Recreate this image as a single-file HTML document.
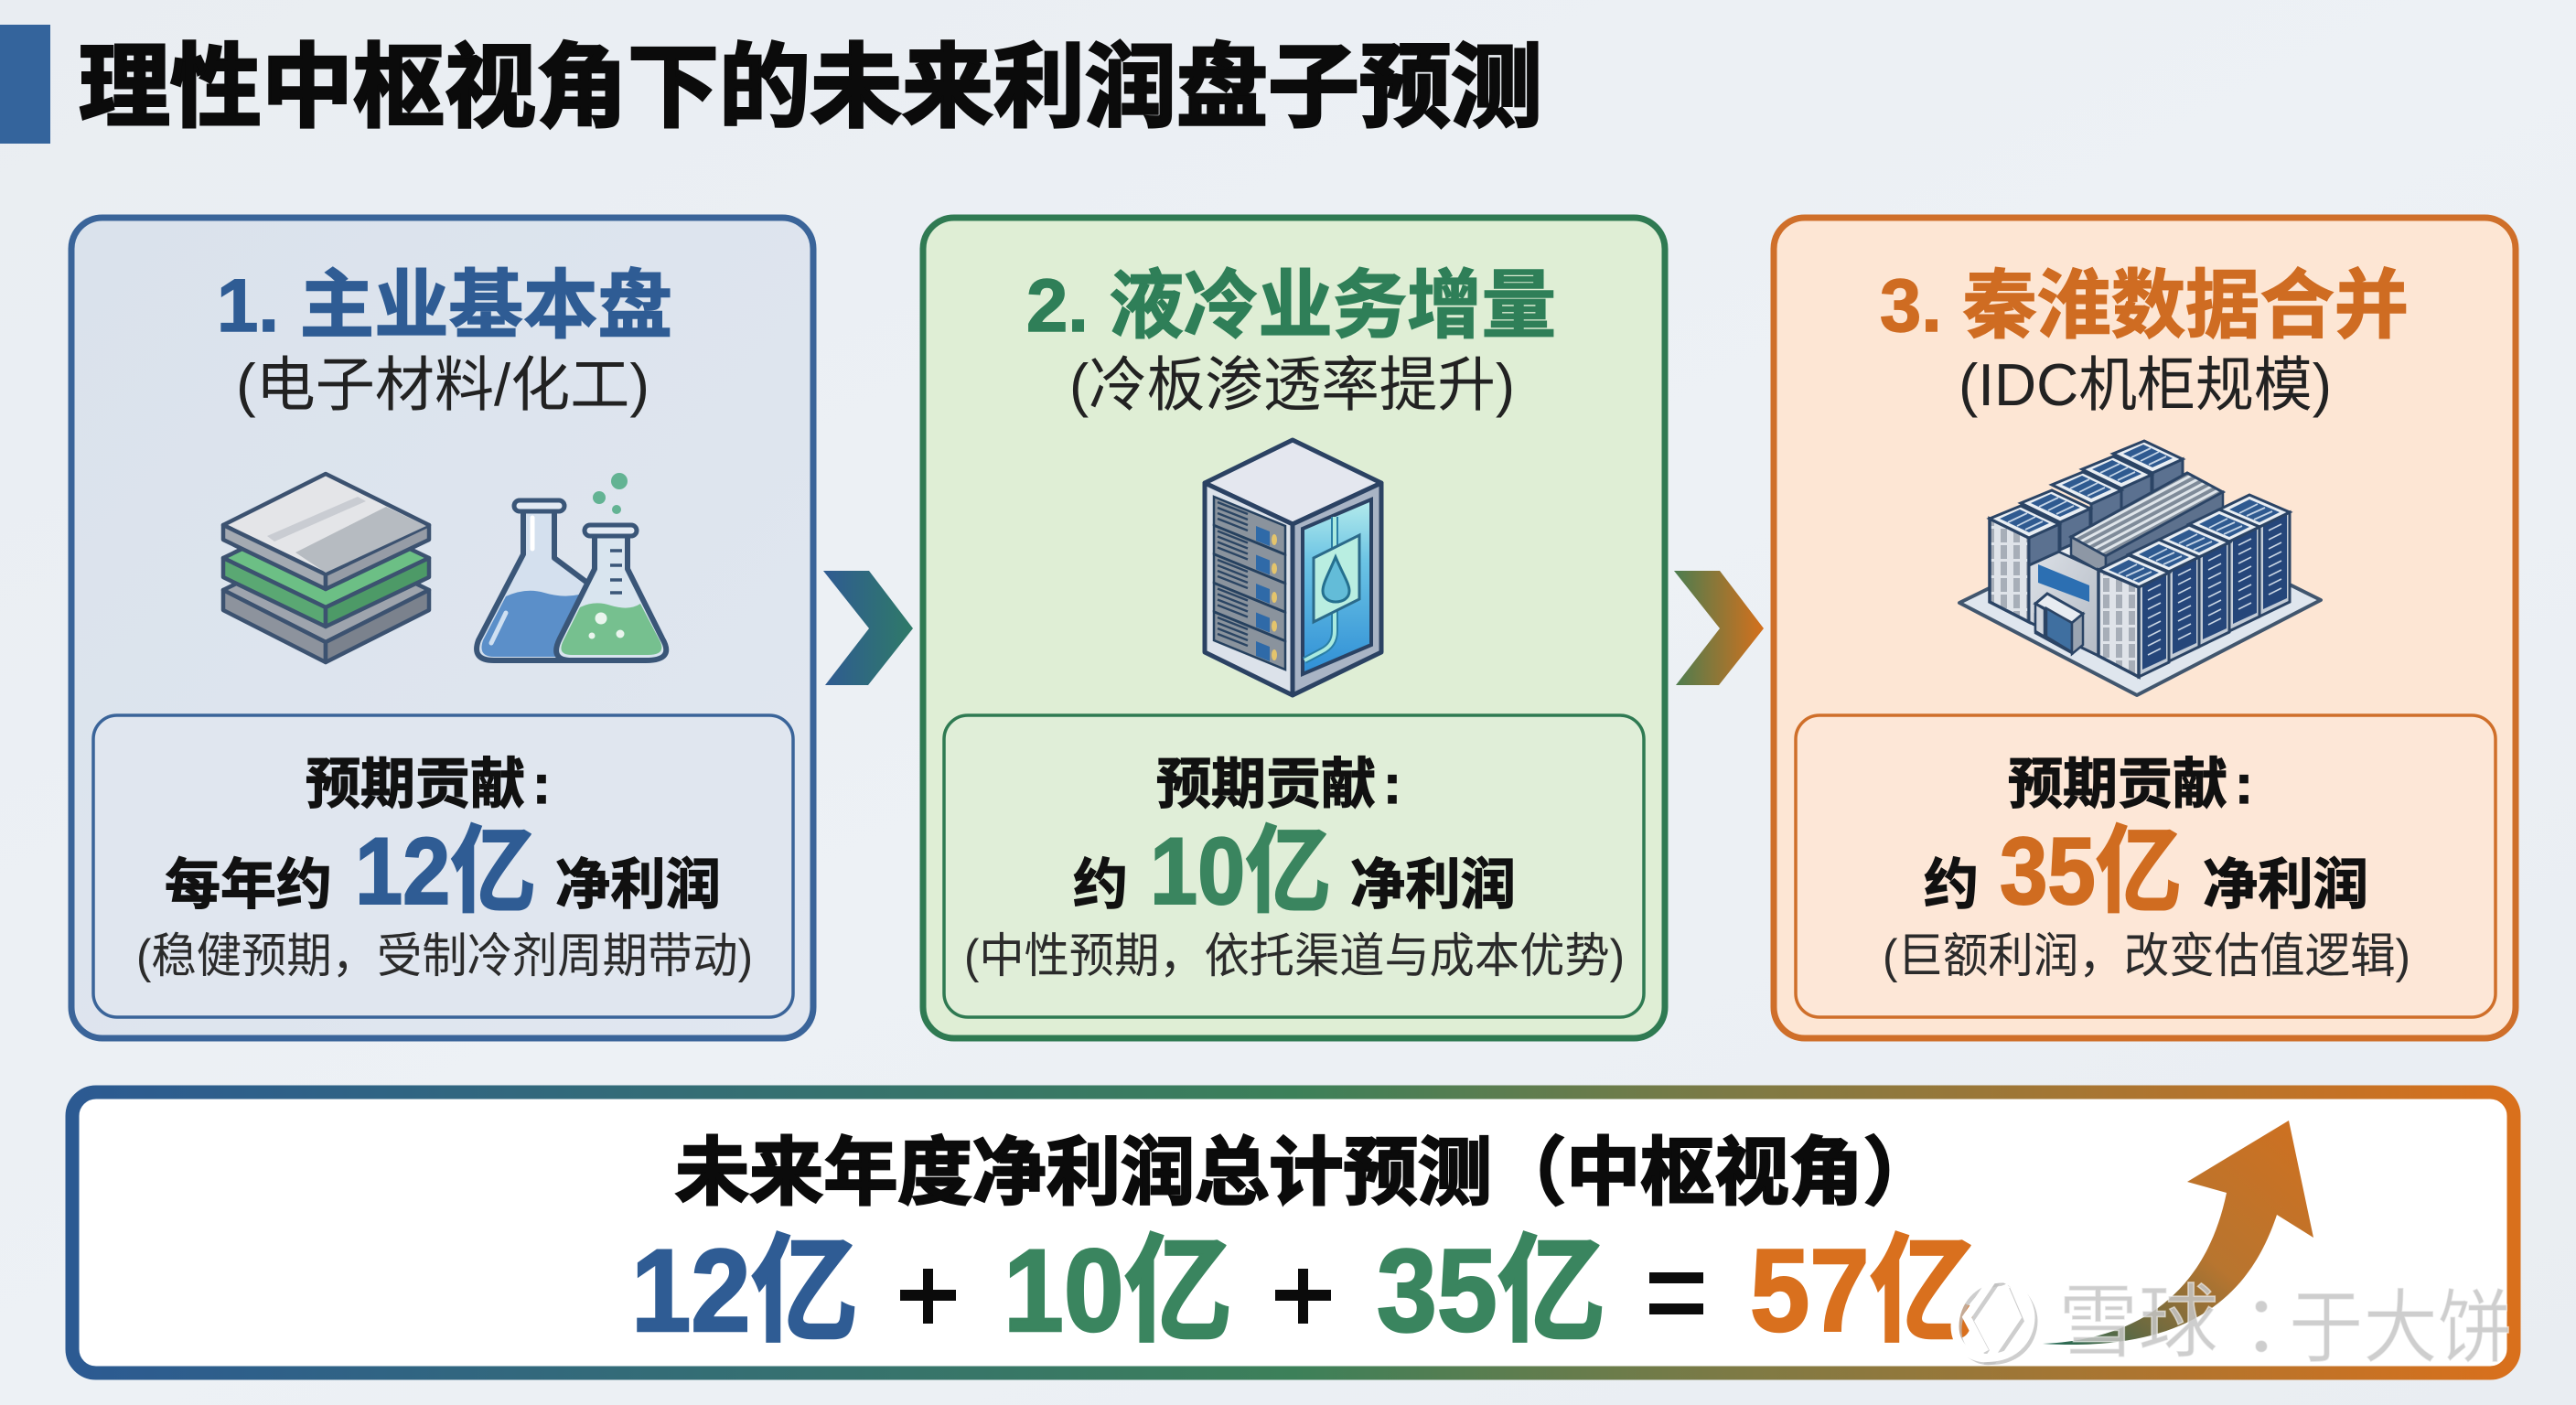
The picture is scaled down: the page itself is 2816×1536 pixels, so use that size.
<!DOCTYPE html>
<html lang="zh"><head><meta charset="utf-8"><title>理性中枢视角下的未来利润盘子预测</title>
<style>
html,body{margin:0;padding:0;background:#ebeff4}
svg{display:block}
text{font-family:"Liberation Sans","Noto Sans CJK SC",sans-serif;white-space:pre}
.h{font-weight:700;font-size:82px;stroke-width:1.5px}
.s{font-size:65px;fill:#222}
.k{font-weight:700;font-size:60px;fill:#111;stroke:#111;stroke-width:1.2px}
.n{font-weight:700;font-size:104px;stroke-width:2px}
.d{font-size:52px;fill:#2b2b2b}
.b{font-weight:700;font-size:128px;stroke-width:2.5px}
.w{font-size:88px;fill:#c6c6c6;fill-opacity:.85;stroke:#fff;stroke-opacity:.55;stroke-width:1.5px}
</style></head><body>
<svg xmlns="http://www.w3.org/2000/svg" width="2816" height="1536" viewBox="0 0 2816 1536">
<defs>
<linearGradient id="bg" x1="0" y1="0" x2="1" y2="1"><stop offset="0" stop-color="#e9edf2"/><stop offset=".5" stop-color="#edf1f5"/><stop offset="1" stop-color="#e9edf2"/></linearGradient>
<linearGradient id="cf1" x1="0" y1="0" x2="1" y2="1"><stop offset="0" stop-color="#dae2ec"/><stop offset="1" stop-color="#e1e7f0"/></linearGradient>
<linearGradient id="bar" x1="0" y1="0" x2="1" y2="0"><stop offset="0" stop-color="#2c5a92"/><stop offset=".5" stop-color="#3c8059"/><stop offset=".68" stop-color="#7d7a45"/><stop offset="1" stop-color="#d9701c"/></linearGradient>
<linearGradient id="c1" x1="0" y1="0" x2="1" y2="0"><stop offset="0" stop-color="#2f5b92"/><stop offset="1" stop-color="#2f7a68"/></linearGradient>
<linearGradient id="c2" x1="0" y1="0" x2="1" y2="0"><stop offset="0" stop-color="#4b7d50"/><stop offset="1" stop-color="#d5701c"/></linearGradient>
<linearGradient id="ar" x1="0" y1="1" x2="1" y2="0"><stop offset="0" stop-color="#1f6a57"/><stop offset=".22" stop-color="#6b6a40"/><stop offset=".5" stop-color="#b8752f"/><stop offset="1" stop-color="#cf7020"/></linearGradient>
<linearGradient id="glass" x1="0" y1="0" x2="0" y2="1"><stop offset="0" stop-color="#b6ecec"/><stop offset=".35" stop-color="#6cc4e4"/><stop offset="1" stop-color="#2f8fd6"/></linearGradient>
<linearGradient id="wall" x1="0" y1="0" x2="1" y2="1"><stop offset="0" stop-color="#dfe3e9"/><stop offset="1" stop-color="#b4bbc5"/></linearGradient>
<pattern id="hatch" width="7" height="7" patternUnits="userSpaceOnUse" patternTransform="rotate(62)"><rect width="7" height="7" fill="#7f8b99"/><rect width="3" height="7" fill="#dfe5ea"/></pattern>
<pattern id="win" width="14" height="18" patternUnits="userSpaceOnUse"><rect width="14" height="18" fill="#dfe3e9"/><rect x="3" y="2" width="7" height="15" fill="#a7aeb8"/></pattern>

<g id="unit">
<polygon points="1327,543 1405,575 1405,606 1327,574" fill="#8a939d" stroke="#26415f" stroke-width="2.5"/>
<g stroke="#2b4563" stroke-width="2.4"><line x1="1331" y1="549" x2="1364" y2="562"/><line x1="1331" y1="555" x2="1364" y2="568"/><line x1="1331" y1="561" x2="1364" y2="574"/><line x1="1331" y1="567" x2="1364" y2="580"/></g>
<polygon points="1373,575 1388,581 1388,597 1373,591" fill="#2f6aa8"/>
<ellipse cx="1393" cy="590" rx="3" ry="6" fill="#e4c46c"/>
</g>

<g id="tf">
<polygon points="0,0 33,-16 33,82 0,98" fill="#c3ccd7" stroke="#2b4465" stroke-width="3"/>
<polygon points="4,-1 30,-14 30,78 4,90" fill="#25467a"/>
<g stroke="#c9d6e4" stroke-width="1.6"><line x1="10" y1="4" x2="24" y2="-3"/><line x1="10" y1="14" x2="24" y2="7"/><line x1="10" y1="24" x2="24" y2="17"/><line x1="10" y1="34" x2="24" y2="27"/><line x1="10" y1="44" x2="24" y2="37"/><line x1="10" y1="54" x2="24" y2="47"/><line x1="10" y1="64" x2="24" y2="57"/><line x1="10" y1="74" x2="24" y2="67"/></g>
<polygon points="-44,-19 0,0 33,-16 -11,-35" fill="#e9eef3" stroke="#2b4465" stroke-width="3"/>
<polygon points="-33,-19 0,-5 22,-16 -11,-30" fill="#2f5a90"/>
<g stroke="#c4d4e6" stroke-width="1.8"><line x1="-22" y1="-15" x2="-2" y2="-25"/><line x1="-14" y1="-12" x2="6" y2="-21"/><line x1="-6" y1="-8" x2="14" y2="-17"/></g>
</g>

<g id="tb">
<polygon points="43,21 76,6 76,36 43,51" fill="#5b7190" stroke="#2b4465" stroke-width="3"/>
<polygon points="0,0 43,21 76,6 34,-14" fill="#e9eef3" stroke="#2b4465" stroke-width="3"/>
<polygon points="11,0 43,15 65,5 33,-10" fill="#2f5a90"/>
<g stroke="#c4d4e6" stroke-width="1.8"><line x1="20" y1="4" x2="41" y2="-6"/><line x1="30" y1="8" x2="50" y2="-2"/><line x1="39" y1="12" x2="58" y2="3"/></g>
</g>
</defs>

<rect width="2816" height="1536" fill="url(#bg)"/>

<rect x="0" y="27" width="55" height="130" fill="#34649c"/>
<text x="86" y="130" font-size="100" font-weight="700" fill="#0b0b0b" stroke="#0b0b0b" stroke-width="3" textLength="1600" lengthAdjust="spacingAndGlyphs">理性中枢视角下的未来利润盘子预测</text>

<rect x="78" y="238" width="811" height="897" rx="34" fill="url(#cf1)" stroke="#3a6499" stroke-width="7"/>
<rect x="102" y="782" width="765" height="330" rx="26" fill="#e0e6ef" stroke="#3a6499" stroke-width="3.5"/>
<rect x="1009" y="238" width="811" height="897" rx="34" fill="#dfeed5" stroke="#2f7a52" stroke-width="7"/>
<rect x="1032" y="782" width="765" height="330" rx="26" fill="#e0eed8" stroke="#2f7a52" stroke-width="3.5"/>
<rect x="1939" y="238" width="811" height="897" rx="34" fill="#fde6d4" stroke="#cf6f2a" stroke-width="7"/>
<rect x="1963" y="782" width="765" height="330" rx="26" fill="#fde7d7" stroke="#cf6f2a" stroke-width="3.5"/>

<text class="h" x="237" y="362" fill="#2f5c94" stroke="#2f5c94" textLength="498" lengthAdjust="spacingAndGlyphs">1. 主业基本盘</text>
<text class="s" x="258" y="443" textLength="452" lengthAdjust="spacingAndGlyphs">(电子材料/化工)</text>
<text class="h" x="1122" y="362" fill="#2f7f58" stroke="#2f7f58" textLength="579" lengthAdjust="spacingAndGlyphs">2. 液冷业务增量</text>
<text class="s" x="1169" y="443" textLength="487" lengthAdjust="spacingAndGlyphs">(冷板渗透率提升)</text>
<text class="h" x="2055" y="362" fill="#cf6c22" stroke="#cf6c22" textLength="578" lengthAdjust="spacingAndGlyphs">3. 秦淮数据合并</text>
<text class="s" x="2141" y="443" textLength="408" lengthAdjust="spacingAndGlyphs">(IDC机柜规模)</text>

<text class="k" x="334" y="878" textLength="240" lengthAdjust="spacingAndGlyphs">预期贡献</text>
<text class="k" x="582" y="878">:</text>
<text class="k" x="180" y="988" textLength="183" lengthAdjust="spacingAndGlyphs">每年约</text>
<text class="n" x="388" y="988" fill="#2f5c94" stroke="#2f5c94" textLength="198" lengthAdjust="spacingAndGlyphs">12亿</text>
<text class="k" x="607" y="988" textLength="181" lengthAdjust="spacingAndGlyphs">净利润</text>
<text class="d" x="149" y="1063" textLength="674" lengthAdjust="spacingAndGlyphs">(稳健预期，受制冷剂周期带动)</text>

<text class="k" x="1264" y="878" textLength="240" lengthAdjust="spacingAndGlyphs">预期贡献</text>
<text class="k" x="1512" y="878">:</text>
<text class="k" x="1173" y="988" textLength="60" lengthAdjust="spacingAndGlyphs">约</text>
<text class="n" x="1257" y="988" fill="#3a855f" stroke="#3a855f" textLength="198" lengthAdjust="spacingAndGlyphs">10亿</text>
<text class="k" x="1476" y="988" textLength="181" lengthAdjust="spacingAndGlyphs">净利润</text>
<text class="d" x="1054" y="1063" textLength="722" lengthAdjust="spacingAndGlyphs">(中性预期，依托渠道与成本优势)</text>

<text class="k" x="2195" y="878" textLength="240" lengthAdjust="spacingAndGlyphs">预期贡献</text>
<text class="k" x="2443" y="878">:</text>
<text class="k" x="2103" y="988" textLength="60" lengthAdjust="spacingAndGlyphs">约</text>
<text class="n" x="2186" y="988" fill="#d06c20" stroke="#d06c20" textLength="199" lengthAdjust="spacingAndGlyphs">35亿</text>
<text class="k" x="2408" y="988" textLength="181" lengthAdjust="spacingAndGlyphs">净利润</text>
<text class="d" x="2058" y="1063" textLength="577" lengthAdjust="spacingAndGlyphs">(巨额利润，改变估值逻辑)</text>

<polygon points="900,624 950,624 998,687 949,749 902,749 950,687" fill="url(#c1)"/>
<polygon points="1830,624 1880,624 1928,687 1879,749 1832,749 1880,687" fill="url(#c2)"/>

<!-- stacked layers -->
<g stroke="#3c5270" stroke-width="4.5" stroke-linejoin="round">
<polygon points="244,645 356,590 469,645 356,702" fill="#9ea4ad"/>
<polygon points="244,645 356,702 356,724 244,667" fill="#8d939d"/>
<polygon points="356,702 469,645 469,667 356,724" fill="#7b828d"/>
<polygon points="244,610 356,556 469,610 356,664" fill="#6cbf85"/>
<polygon points="244,610 356,664 356,685 244,631" fill="#5aa873"/>
<polygon points="356,664 469,610 469,631 356,685" fill="#4d9a67"/>
<polygon points="244,574 356,518 469,574 356,628" fill="#e4e5e8"/>
<polygon points="244,574 356,628 356,644 244,590" fill="#a4aab2"/>
<polygon points="356,628 469,574 469,590 356,644" fill="#969ca6"/>
</g>
<polygon points="323,604 422,554 466,575 356,626" fill="#b6bbc1"/>
<polygon points="292,586 391,543 400,548 300,592" fill="#c9ccd2"/>

<!-- flasks -->
<path d="M572 553 V606 L523 700 Q515 722 540 722 H640 L646 640 L606 610 V553 Z" fill="#d4e0ee" stroke="#3a5678" stroke-width="6" stroke-linejoin="round"/>
<rect x="562" y="547" width="55" height="12" rx="6" fill="#e3eaf3" stroke="#3a5678" stroke-width="5"/>
<path d="M553 652 Q575 642 595 648 Q615 654 633 650 L640 718 H540 Q522 718 528 700 Z" fill="#5b8fc9"/>
<line x1="582" y1="566" x2="582" y2="600" stroke="#fff" stroke-width="5" stroke-linecap="round"/>
<line x1="553" y1="670" x2="537" y2="703" stroke="#cfe0f2" stroke-width="5" stroke-linecap="round"/>
<path d="M650 578 V622 L612 698 Q600 722 625 722 H706 Q738 722 724 698 L686 622 V578 Z" fill="#d9e5ef" stroke="#3a5678" stroke-width="6" stroke-linejoin="round"/>
<rect x="639" y="574" width="57" height="12" rx="6" fill="#e3eaf3" stroke="#3a5678" stroke-width="5"/>
<path d="M634 664 Q650 656 668 662 Q688 668 700 660 L722 702 Q728 716 708 716 H625 Q608 716 616 700 Z" fill="#76c08f"/>
<g stroke="#3a5678" stroke-width="3.5"><line x1="667" y1="602" x2="680" y2="602"/><line x1="667" y1="618" x2="680" y2="618"/><line x1="667" y1="634" x2="680" y2="634"/><line x1="667" y1="648" x2="680" y2="648"/></g>
<circle cx="657" cy="676" r="6.5" fill="#eaf5ee"/><circle cx="647" cy="695" r="3.5" fill="#eaf5ee"/><circle cx="678" cy="693" r="4.5" fill="#eaf5ee"/>
<circle cx="677" cy="526" r="9" fill="#63b393"/><circle cx="655" cy="544" r="7" fill="#63b393"/><circle cx="674" cy="557" r="5" fill="#63b393"/>

<!-- rack -->
<polygon points="1413,481 1510,528 1413,573 1317,528" fill="#e4e7ef" stroke="#2b4263" stroke-width="5" stroke-linejoin="round"/>
<polygon points="1317,528 1413,573 1413,760 1317,713" fill="#dce2ea" stroke="#2b4263" stroke-width="5" stroke-linejoin="round"/>
<polygon points="1413,573 1510,528 1510,713 1413,760" fill="#a9b4c5" stroke="#2b4263" stroke-width="5" stroke-linejoin="round"/>
<use href="#unit"/><use href="#unit" y="31.5"/><use href="#unit" y="63"/><use href="#unit" y="94.5"/><use href="#unit" y="126"/>
<polygon points="1424,578 1499,546 1499,705 1424,737" fill="url(#glass)" stroke="#2b4263" stroke-width="4"/>
<path d="M1459 565 V690 Q1459 705 1445 712 L1426 722" fill="none" stroke="#2a7fa6" stroke-width="8"/>
<path d="M1459 565 V690 Q1459 705 1445 712 L1426 722" fill="none" stroke="#a9eadf" stroke-width="4"/>
<polygon points="1436,610 1486,585 1486,655 1436,680" fill="#b9eee1" stroke="#2b6a8a" stroke-width="3"/>
<path d="M1460 609 C1452 628 1446 638 1446 646 C1446 654 1453 658 1460 658 C1468 658 1475 654 1475 646 C1475 638 1468 628 1460 609 Z" fill="#63bcd8" stroke="#25708f" stroke-width="3"/>

<!-- building -->
<polygon points="2142,659 2344,560 2537,656 2336,760" fill="#dfe6ee" stroke="#41566e" stroke-width="4" stroke-linejoin="round"/>
<polygon points="2175,567 2218,588 2218,680 2175,658" fill="url(#win)" stroke="#2b4465" stroke-width="3.5"/>
<polygon points="2218,588 2294,623 2294,717 2218,680" fill="url(#wall)" stroke="#2b4465" stroke-width="3"/>
<polygon points="2218,588 2250,572 2330,606 2294,623" fill="#e8ecf1" stroke="#2b4465" stroke-width="2.5"/>
<polygon points="2228,617 2284,640 2284,658 2228,637" fill="#2c6fb2"/>
<use href="#tb" x="2310" y="496"/><use href="#tb" x="2276" y="513"/><use href="#tb" x="2243" y="530"/><use href="#tb" x="2209" y="550"/><use href="#tb" x="2175" y="567"/>
<polygon points="2264,587 2391,517 2430,538 2302,608" fill="url(#hatch)" stroke="#2b4465" stroke-width="3"/>
<polygon points="2264,587 2302,608 2302,628 2264,607" fill="#8d97a5" stroke="#2b4465" stroke-width="2.5"/>
<polygon points="2302,608 2430,538 2430,558 2302,628" fill="#5d718d" stroke="#2b4465" stroke-width="2.5"/>
<use href="#tf" x="2470" y="576"/><use href="#tf" x="2437" y="592"/><use href="#tf" x="2404" y="609"/><use href="#tf" x="2371" y="625"/><use href="#tf" x="2338" y="642"/>
<polygon points="2294,623 2338,642 2338,740 2294,717" fill="url(#win)" stroke="#2b4465" stroke-width="3.5"/>
<polygon points="2225,672 2265,695 2265,714 2225,692" fill="#bcc4cf" stroke="#2b4465" stroke-width="2.5"/>
<polygon points="2225,660 2238,649 2277,671 2265,681" fill="#e8ecf1" stroke="#2b4465" stroke-width="3"/>
<polygon points="2237,665 2265,681 2265,713 2237,696" fill="#3f6fa0" stroke="#2b4465" stroke-width="2.5"/>
<polygon points="2225,660 2235,666 2235,696 2225,690" fill="#cfd5dd" stroke="#2b4465" stroke-width="2.5"/>
<polygon points="2265,681 2277,671 2277,705 2265,715" fill="#9aa4b1" stroke="#2b4465" stroke-width="2.5"/>

<!-- summary -->
<rect x="79" y="1194" width="2669" height="307" rx="26" fill="#fff" stroke="url(#bar)" stroke-width="15"/>
<text x="738" y="1310" font-size="81" font-weight="700" fill="#0b0b0b" stroke="#0b0b0b" stroke-width="2.5" textLength="1380" lengthAdjust="spacingAndGlyphs">未来年度净利润总计预测（中枢视角）</text>
<text class="b" x="690" y="1455" fill="#2f5c94" stroke="#2f5c94" textLength="248" lengthAdjust="spacingAndGlyphs">12亿</text>
<text class="b" x="1097" y="1455" fill="#3a855f" stroke="#3a855f" textLength="250" lengthAdjust="spacingAndGlyphs">10亿</text>
<text class="b" x="1505" y="1455" fill="#3a855f" stroke="#3a855f" textLength="250" lengthAdjust="spacingAndGlyphs">35亿</text>
<text class="b" x="1913" y="1455" fill="#d9701e" stroke="#d9701e" textLength="248" lengthAdjust="spacingAndGlyphs">57亿</text>
<rect x="1009" y="1387" width="11" height="60" fill="#0b0b0b"/>
<rect x="984" y="1410" width="61" height="12" fill="#0b0b0b"/>
<rect x="1419" y="1387" width="11" height="60" fill="#0b0b0b"/>
<rect x="1394" y="1410" width="61" height="12" fill="#0b0b0b"/>
<rect x="1803" y="1391" width="59" height="12" fill="#0b0b0b"/>
<rect x="1803" y="1425" width="59" height="12" fill="#0b0b0b"/>

<path d="M2233 1469 C2330 1465 2410 1420 2434 1304 L2391 1292 L2502 1225 L2529 1353 L2489 1328 C2465 1400 2410 1480 2233 1469 Z" fill="url(#ar)"/>

<!-- watermark -->
<g fill="none" stroke="#bdbdbd" stroke-opacity=".75" stroke-width="7" transform="translate(4,4)">
<path d="M2190 1398 C2155 1398 2137 1425 2137 1450 C2137 1475 2160 1488 2175 1484 L2205 1440 L2190 1405"/>
<path d="M2165 1484 C2200 1488 2220 1465 2220 1440 C2220 1420 2200 1395 2180 1396 L2150 1440 L2170 1478"/>
</g>
<g fill="none" stroke="#fff" stroke-width="9">
<path d="M2190 1398 C2155 1398 2137 1425 2137 1450 C2137 1475 2160 1488 2175 1484 L2205 1440 L2190 1405"/>
<path d="M2165 1484 C2200 1488 2220 1465 2220 1440 C2220 1420 2200 1395 2180 1396 L2150 1440 L2170 1478"/>
</g>
<text class="w" x="2250" y="1476" textLength="175" lengthAdjust="spacingAndGlyphs">雪球</text>
<text class="w" x="2450" y="1478">：</text>
<text class="w" x="2502" y="1482" textLength="244" lengthAdjust="spacingAndGlyphs">于大饼</text>
</svg>
</body></html>
